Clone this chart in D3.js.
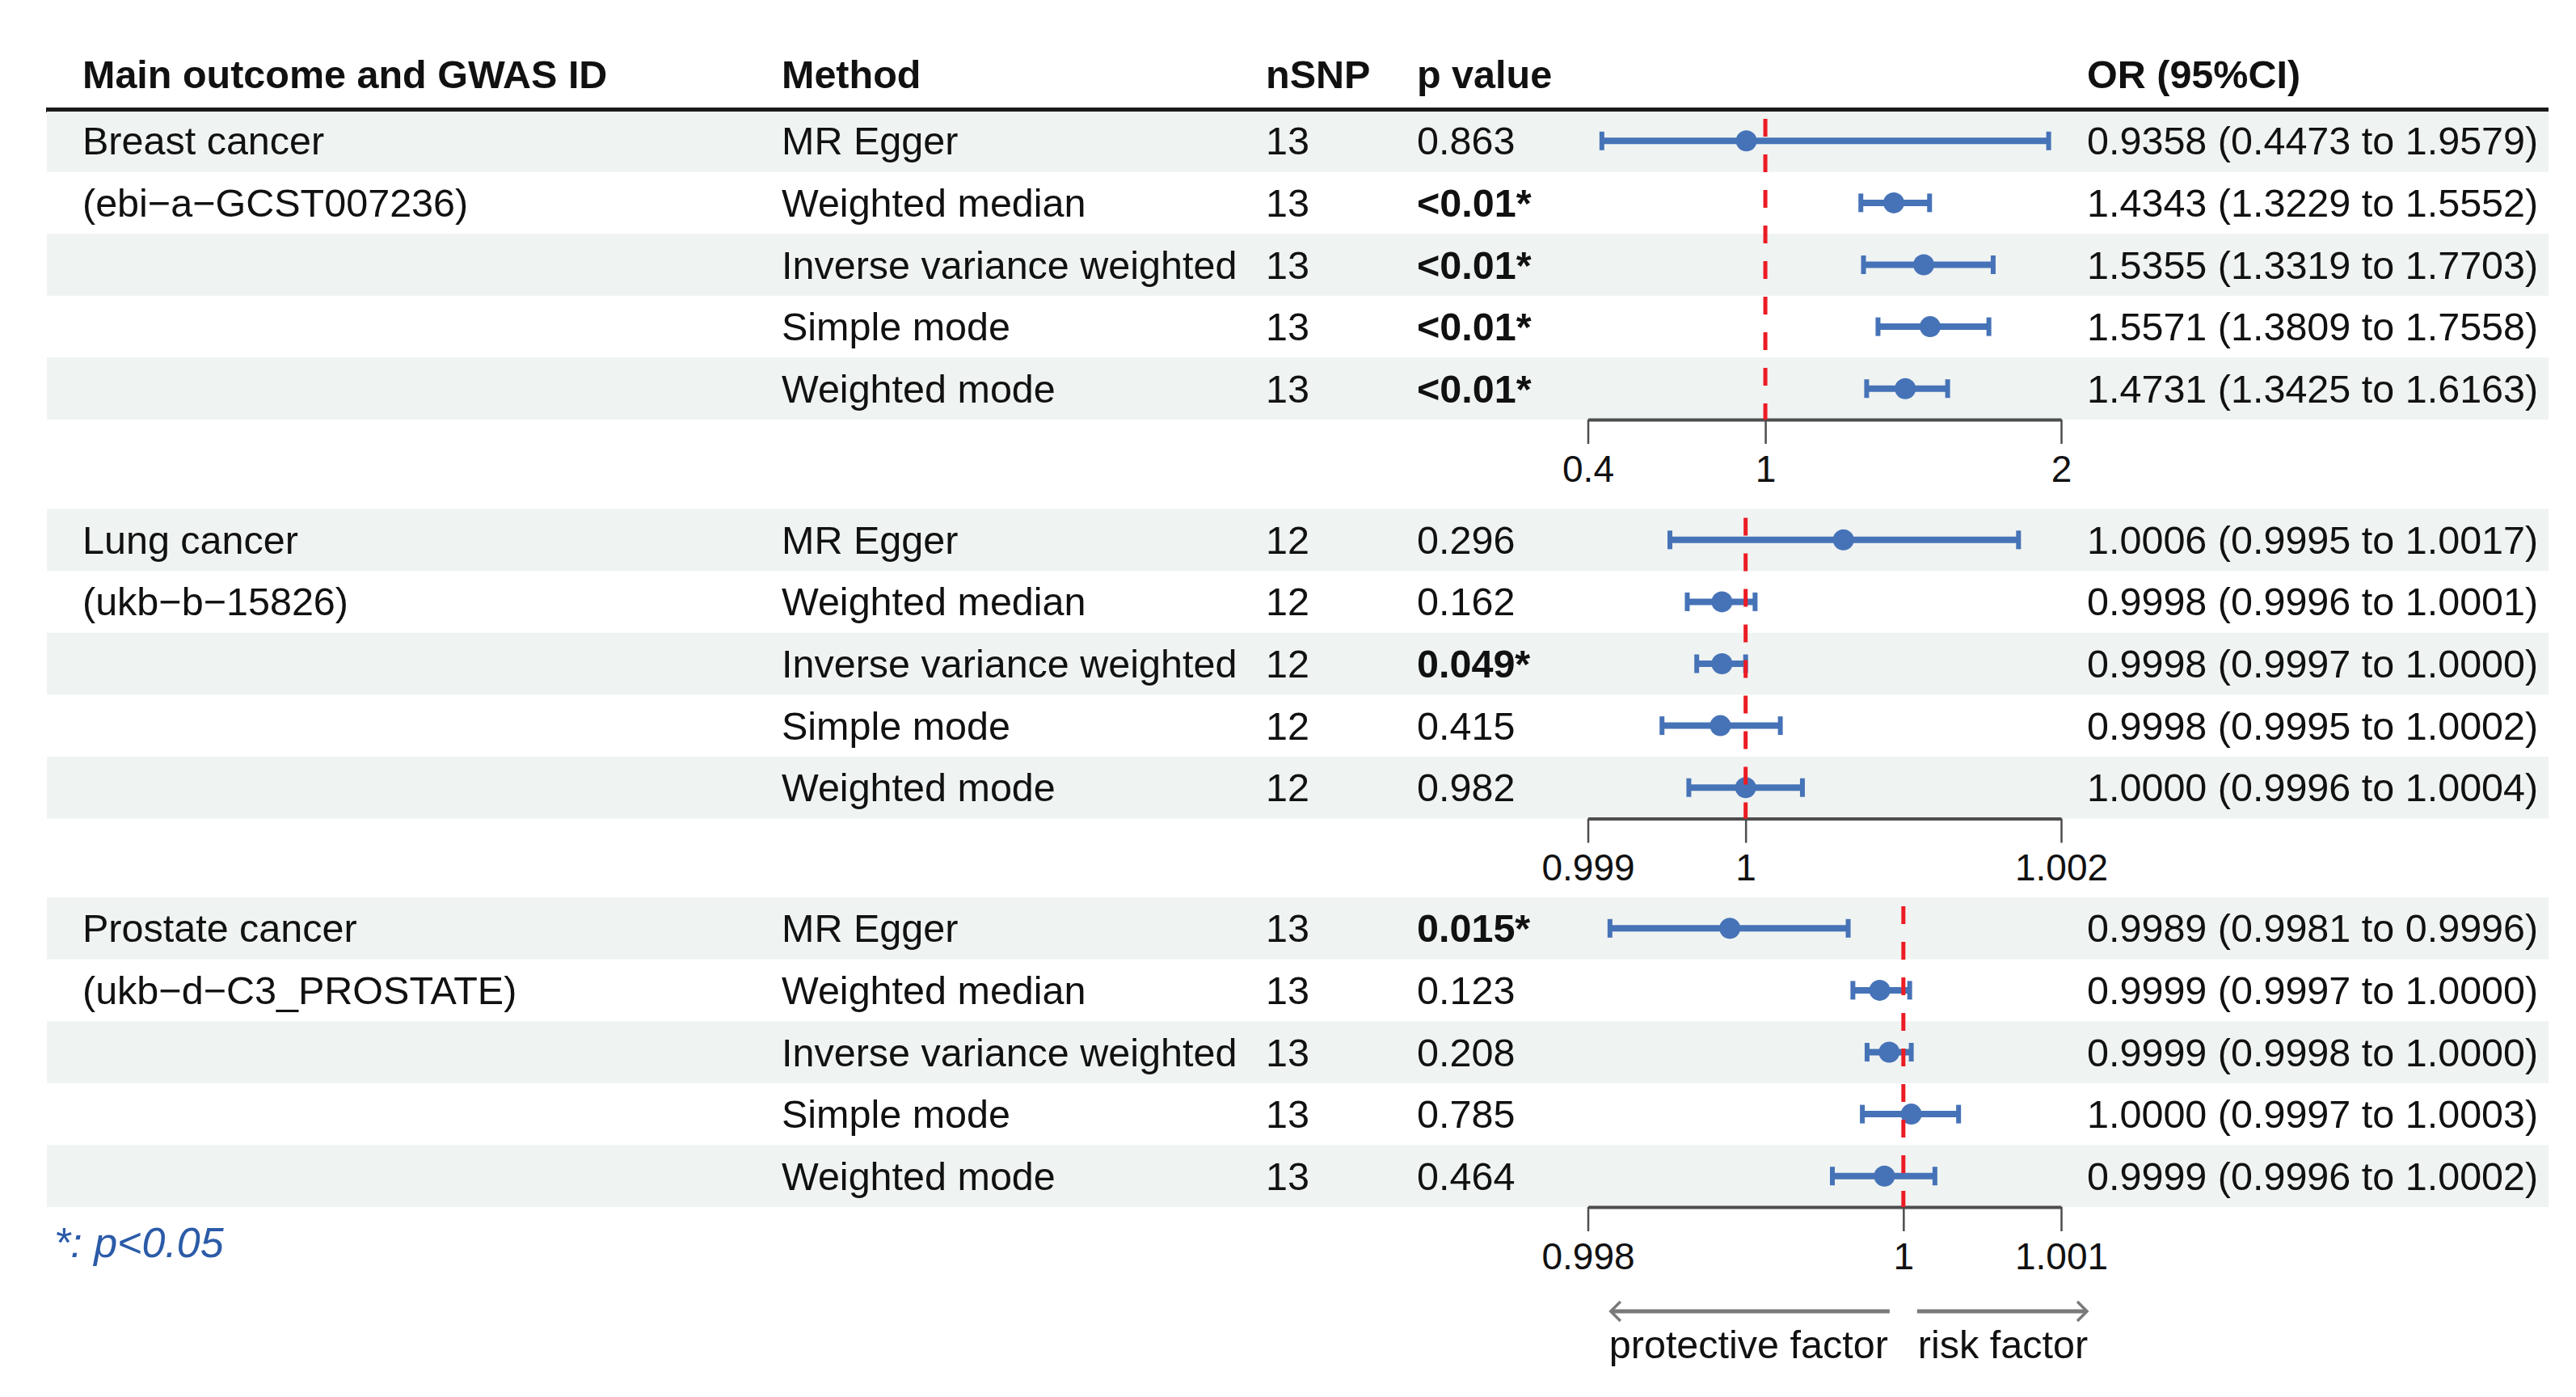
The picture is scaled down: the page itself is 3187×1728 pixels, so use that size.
<!DOCTYPE html>
<html>
<head>
<meta charset="utf-8">
<script src="https://cdn.jsdelivr.net/npm/d3@7"></script>
<style>
body{margin:0;background:#fff;}
text{font-family:"Liberation Sans",Arial,Helvetica,sans-serif;}
</style>
</head>
<body>
<div id="content"></div>
<script>
//forest plot data, one inner array per outcome
var headers=['Main outcome and GWAS ID','Method','nSNP','p value','OR (95%CI)'];
var outcomes=['Breast cancer','Lung cancer','Prostate cancer'];
var gwas_ids=['(ebi\u2212a\u2212GCST007236)','(ukb\u2212b\u221215826)','(ukb\u2212d\u2212C3_PROSTATE)'];
var methods=['MR Egger','Weighted median','Inverse variance weighted','Simple mode','Weighted mode'];
var nsnp=[[13,13,13,13,13],[12,12,12,12,12],[13,13,13,13,13]];
var p_labels=[['0.863','<0.01*','<0.01*','<0.01*','<0.01*'],
              ['0.296','0.162','0.049*','0.415','0.982'],
              ['0.015*','0.123','0.208','0.785','0.464']];
var or_labels=[['0.9358 (0.4473 to 1.9579)','1.4343 (1.3229 to 1.5552)','1.5355 (1.3319 to 1.7703)','1.5571 (1.3809 to 1.7558)','1.4731 (1.3425 to 1.6163)'],
               ['1.0006 (0.9995 to 1.0017)','0.9998 (0.9996 to 1.0001)','0.9998 (0.9997 to 1.0000)','0.9998 (0.9995 to 1.0002)','1.0000 (0.9996 to 1.0004)'],
               ['0.9989 (0.9981 to 0.9996)','0.9999 (0.9997 to 1.0000)','0.9999 (0.9998 to 1.0000)','1.0000 (0.9997 to 1.0003)','0.9999 (0.9996 to 1.0002)']];
var or_est=[[0.9358,1.4343,1.5355,1.5571,1.4731],
            [1.00062,0.99985,0.99985,0.99984,1.00000],
            [0.99890,0.99985,0.99991,1.00005,0.99988]];
var ci_low=[[0.4473,1.3229,1.3319,1.3809,1.3425],
            [0.99952,0.99963,0.99969,0.99947,0.99964],
            [0.99814,0.99968,0.99977,0.99974,0.99955]];
var ci_high=[[1.9579,1.5552,1.7703,1.7558,1.6163],
             [1.00173,1.00006,1.00000,1.00022,1.00036],
             [0.99965,1.00004,1.00005,1.00035,1.00020]];
var tick_values=[[0.4,1,2],[0.999,1,1.002],[0.998,1,1.001]];
var tick_labels=[['0.4','1','2'],['0.999','1','1.002'],['0.998','1','1.001']];
var ref_value=1;
var arrow_labels=['protective factor','risk factor'];
var footnote='*: p<0.05';

//layout constants
var svg_width=3187;
var svg_height=1728;
var col_x=[102,967,1566,1753,2582];
var ci_left=1964.5;
var ci_right=2550;
var section_top=[136,629.5,1110];
var row_h=76.6;
var band_left=58;
var band_right=3153;
var font_size=48.5;
var text_color='#111';
var band_color='#eff3f2';
var ci_color='#4673b7';
var ref_color='#ec1c24';
var axis_color='#4d4d4d';

var svg=d3.select('#content').append('svg')
	.attr('width',svg_width)
	.attr('height',svg_height)
	.style('display','block');

//writes one cell of text
function cell(x,y,txt,bold){
	return svg.append('text')
		.attr('x',x)
		.attr('y',y)
		.attr('font-size',font_size)
		.attr('font-weight',bold?'bold':'normal')
		.attr('fill',text_color)
		.text(txt);
}

//header row and the thick rule below it
function drawHeader(){
	headers.forEach(function(h,i){cell(col_x[i],109,h,true);});
	svg.append('line')
		.attr('x1',band_left-1).attr('x2',band_right)
		.attr('y1',136).attr('y2',136)
		.attr('stroke','#1a1a1a')
		.attr('stroke-width',6);
}

//one outcome block: bands, texts, CI marks, axis, reference line
function drawSection(s){
	var top=section_top[s];
	var axis_y=top+methods.length*row_h;
	var xScale=d3.scaleLinear()
		.domain([tick_values[s][0],tick_values[s][tick_values[s].length-1]])
		.range([ci_left,ci_right]);
	var yCenter=function(i){return top+(i+0.5)*row_h;};

	var g=svg.append('g');

	g.selectAll('.band')
		.data(d3.range(methods.length).filter(function(i){return i%2==0;}))
		.enter().append('rect')
		.attr('x',band_left)
		.attr('y',function(i){return top+i*row_h+(s==0&&i==0?2:0);})
		.attr('width',band_right-band_left)
		.attr('height',function(i){return row_h-(s==0&&i==0?2:0);})
		.attr('fill',band_color);

	cell(col_x[0],yCenter(0)+17,outcomes[s],false);
	cell(col_x[0],yCenter(1)+17,gwas_ids[s],false);

	methods.forEach(function(m,i){
		var y=yCenter(i)+17;
		cell(col_x[1],y,m,false);
		cell(col_x[2],y,nsnp[s][i],false);
		cell(col_x[3],y,p_labels[s][i],p_labels[s][i].indexOf('*')>=0);
		cell(col_x[4],y,or_labels[s][i],false);
	});

	var idx=d3.range(methods.length);

	g.selectAll('.ci')
		.data(idx).enter().append('line')
		.attr('x1',function(i){return xScale(ci_low[s][i]);})
		.attr('x2',function(i){return xScale(ci_high[s][i]);})
		.attr('y1',yCenter).attr('y2',yCenter)
		.attr('stroke',ci_color)
		.attr('stroke-width',8);

	[ci_low,ci_high].forEach(function(arr){
		g.selectAll('.cap')
			.data(idx).enter().append('line')
			.attr('x1',function(i){return xScale(arr[s][i]);})
			.attr('x2',function(i){return xScale(arr[s][i]);})
			.attr('y1',function(i){return yCenter(i)-11.5;})
			.attr('y2',function(i){return yCenter(i)+11.5;})
			.attr('stroke',ci_color)
			.attr('stroke-width',6);
	});

	g.selectAll('.pt')
		.data(idx).enter().append('circle')
		.attr('cx',function(i){return xScale(or_est[s][i]);})
		.attr('cy',yCenter)
		.attr('r',13)
		.attr('fill',ci_color);

	var axis=d3.axisBottom(xScale)
		.tickValues(tick_values[s])
		.tickFormat(function(d,i){return tick_labels[s][i];})
		.tickSize(30)
		.tickSizeOuter(0)
		.tickPadding(14);

	var ax=svg.append('g')
		.attr('transform','translate(0,'+axis_y+')')
		.attr('color',axis_color)
		.call(axis);
	ax.select('.domain').attr('stroke-width',4);
	ax.selectAll('.tick line').attr('stroke-width',2.5);
	ax.selectAll('.tick text')
		.attr('font-size',46)
		.attr('font-family','"Liberation Sans",Arial,sans-serif')
		.attr('fill',text_color);

	svg.append('line')
		.attr('x1',xScale(ref_value)).attr('x2',xScale(ref_value))
		.attr('y1',top+11).attr('y2',axis_y)
		.attr('stroke',ref_color)
		.attr('stroke-width',5)
		.attr('stroke-dasharray','22,22');

	return xScale;
}

//arrows with the direction labels under the last axis
function drawArrows(xScale){
	var x0=xScale(ref_value);
	var ay=1622;
	var left=cell(x0-19,1680,arrow_labels[0],false).attr('text-anchor','end');
	var right=cell(x0+18,1680,arrow_labels[1],false);
	var lw=left.node().getComputedTextLength();
	var rw=right.node().getComputedTextLength();
	var segs=[[x0-17,x0-17-lw,-1],[x0+17,x0+17+rw,1]];
	segs.forEach(function(sg){
		svg.append('line')
			.attr('x1',sg[0]).attr('x2',sg[1])
			.attr('y1',ay).attr('y2',ay)
			.attr('stroke','#7a7a7a')
			.attr('stroke-width',5);
		svg.append('polyline')
			.attr('points',(sg[1]-sg[2]*12)+','+(ay-12)+' '+sg[1]+','+ay+' '+(sg[1]-sg[2]*12)+','+(ay+12))
			.attr('fill','none')
			.attr('stroke','#7a7a7a')
			.attr('stroke-width',3.5);
	});
}

drawHeader();
var lastScale=null;
outcomes.forEach(function(o,s){lastScale=drawSection(s);});
drawArrows(lastScale);

svg.append('text')
	.attr('x',67)
	.attr('y',1555)
	.attr('font-size',52)
	.attr('font-style','italic')
	.attr('fill','#2b5ba8')
	.text(footnote);
</script>
</body>
</html>
